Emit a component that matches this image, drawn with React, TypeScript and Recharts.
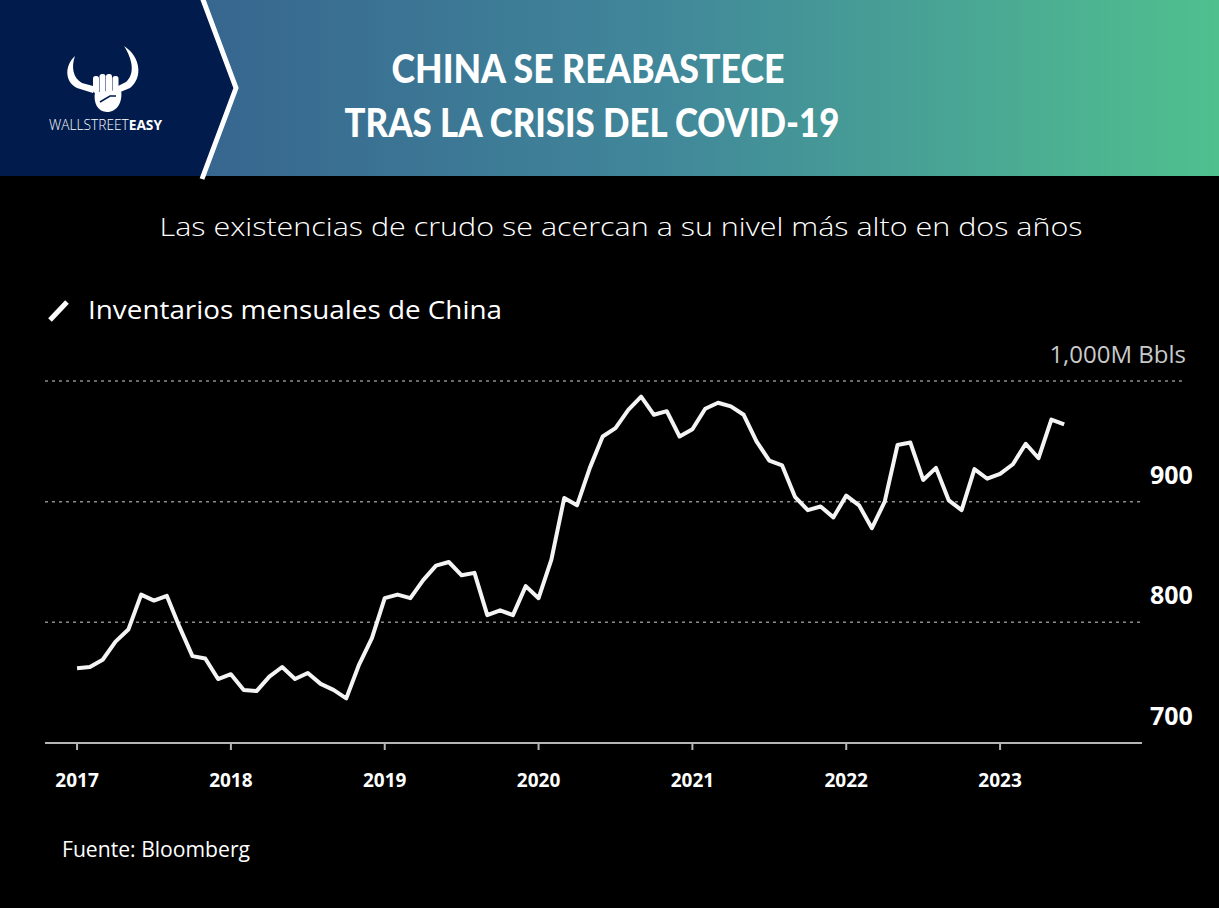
import React from "react";
import { CartesianGrid, Line, LineChart, ReferenceLine, XAxis, YAxis } from "recharts";

// Chinese crude inventories, millions of barrels, one value per month
const years = ["2017", "2018", "2019", "2020", "2021", "2022", "2023"];
const stocks2017 = [762, 763, 769, 784, 794, 823, 818, 822, 796, 772, 770, 753];
const stocks2018 = [757, 744, 743, 755, 763, 753, 758, 749, 744, 737, 765, 787];
const stocks2019 = [820, 823, 820, 835, 847, 850, 839, 841, 806, 810, 806, 830];
const stocks2020 = [820, 852, 903, 897, 928, 954, 961, 976, 987, 972, 975, 954];
const stocks2021 = [960, 977, 982, 979, 972, 950, 934, 930, 904, 893, 896, 887];
const stocks2022 = [905, 897, 878, 900, 947, 949, 918, 928, 901, 893, 927, 919];
const stocks2023 = [923, 931, 948, 936, 968, 964];
const valueTicks = [700, 800, 900, 1000];

const data = [stocks2017, stocks2018, stocks2019, stocks2020, stocks2021, stocks2022, stocks2023]
  .flat()
  .map((value, month) => ({ month, value }));
const yearTicks = years.map((_, k) => k * 12);

const FONT = "'Open Sans', 'Noto Sans', sans-serif";

function renderYearTick(props: any) {
  const { x, y, payload } = props;
  return (
    <text x={x} y={y + 35} textAnchor="middle" fill="#fff" fontFamily={FONT} fontWeight={700} fontSize={19}>
      {years[payload.value / 12]}
    </text>
  );
}

function renderValueTick(props: any) {
  const { x, y, payload } = props;
  if (payload.value === 1000) {
    return (
      <text x={x + 36} y={y - 18} textAnchor="end" fill="#c9c9c9" fontFamily={FONT} fontSize={24}>
        1,000M Bbls
      </text>
    );
  }
  return (
    <text x={x} y={y - 18} textAnchor="start" fill="#fff" fontFamily={FONT} fontWeight={700} fontSize={25}>
      {payload.value}
    </text>
  );
}

function Logo() {
  return (
    <g fill="#fff">
      <path d="M75,56 C64,66 65,82 77,88 L93,93 L93,86 L82,83 C73,78 71,67 75,56 Z" />
      <path d="M124,46 C141,57 143,78 130,88 L118,93 L118,86 L126,82 C135,74 133,60 124,46 Z" />
      <rect x={93} y={76} width={6} height={17} rx={2.5} />
      <rect x={99.5} y={74} width={6} height={19} rx={2.5} />
      <rect x={106} y={74} width={6} height={19} rx={2.5} />
      <rect x={112.5} y={76} width={6} height={17} rx={2.5} />
      <path d="M95,92 L121,90 C123,102 117,112 107,112 C98,112 93,103 95,92 Z" />
      <path d="M100,102 L110,96 L116,96" fill="none" stroke="#011b4d" strokeWidth={1.6} />
      <text x={49} y={130} fontFamily={FONT} fontSize={15} textLength={113} lengthAdjust="spacingAndGlyphs">
        <tspan fontWeight={300}>WALLSTREET</tspan>
        <tspan fontWeight={700}>EASY</tspan>
      </text>
    </g>
  );
}

export default function App() {
  return (
    <div style={{ position: "relative", width: 1219, height: 908, background: "#000", overflow: "hidden" }}>
      <style>{"body{margin:0;background:#000}"}</style>
      <svg width={1219} height={908} style={{ position: "absolute", left: 0, top: 0 }}>
        <defs>
          <linearGradient id="band" x1="0" y1="0" x2="1" y2="0">
            <stop offset="0.17" stopColor="#37668f" />
            <stop offset="0.55" stopColor="#41889a" />
            <stop offset="1" stopColor="#50c08e" />
          </linearGradient>
        </defs>
        <rect x={0} y={0} width={1219} height={176} fill="url(#band)" />
        <polygon points="0,0 202,0 235,88 202,176 0,176" fill="#011b4d" />
        <polyline points="202,-3 236,88 202,179" fill="none" stroke="#fff" strokeWidth={5} />
        <Logo />
        <text x={588} y={83} textAnchor="middle" fill="#fff" fontFamily="Lato, sans-serif" fontWeight={900} fontSize={40} textLength={393} lengthAdjust="spacingAndGlyphs">
          CHINA SE REABASTECE
        </text>
        <text x={592} y={137} textAnchor="middle" fill="#fff" fontFamily="Lato, sans-serif" fontWeight={900} fontSize={40} textLength={495} lengthAdjust="spacingAndGlyphs">
          TRAS LA CRISIS DEL COVID-19
        </text>
        <text x={621} y={236} textAnchor="middle" fill="#fff" fontFamily={FONT} fontWeight={300} fontSize={25} textLength={923} lengthAdjust="spacingAndGlyphs">
          Las existencias de crudo se acercan a su nivel más alto en dos años
        </text>
        <line x1={50} y1={320} x2={67} y2={302} stroke="#fff" strokeWidth={5} />
        <text x={88} y={319} fill="#fff" fontFamily={FONT} fontSize={26} textLength={414} lengthAdjust="spacingAndGlyphs">
          Inventarios mensuales de China
        </text>
        <text x={62} y={857} fill="#fff" fontFamily={FONT} fontSize={22} textLength={188} lengthAdjust="spacingAndGlyphs">
          Fuente: Bloomberg
        </text>
      </svg>
      <div style={{ position: "absolute", left: 0, top: 0 }}>
        <LineChart width={1219} height={908} data={data} margin={{ top: 381, right: 0, bottom: 125, left: 45 }}>
          <CartesianGrid horizontal vertical={false} horizontalValues={[800, 900]} stroke="#8c8c8c" strokeWidth={1.5} strokeDasharray="3 4" />
          <ReferenceLine
            segment={[
              { x: -2.5, y: 1000 },
              { x: 86.3, y: 1000 },
            ]}
            ifOverflow="visible"
            stroke="#8c8c8c"
            strokeWidth={1.5}
            strokeDasharray="3 4"
          />
          <XAxis
            dataKey="month"
            type="number"
            domain={[-2.5, 83.07]}
            ticks={yearTicks}
            interval={0}
            allowDataOverflow
            height={40}
            tickSize={7}
            tickLine={{ stroke: "#b5b5b5", strokeWidth: 2 }}
            axisLine={{ stroke: "#b5b5b5", strokeWidth: 2 }}
            tick={renderYearTick}
          />
          <YAxis
            orientation="right"
            type="number"
            domain={[700, 1000]}
            ticks={valueTicks}
            interval={0}
            width={77}
            axisLine={false}
            tickLine={false}
            tickSize={0}
            tickMargin={8}
            tick={renderValueTick}
          />
          <Line
            type="linear"
            dataKey="value"
            stroke="#f4f4f4"
            strokeWidth={4}
            strokeLinejoin="round"
            dot={false}
            activeDot={false}
            isAnimationActive={false}
          />
        </LineChart>
      </div>
    </div>
  );
}
